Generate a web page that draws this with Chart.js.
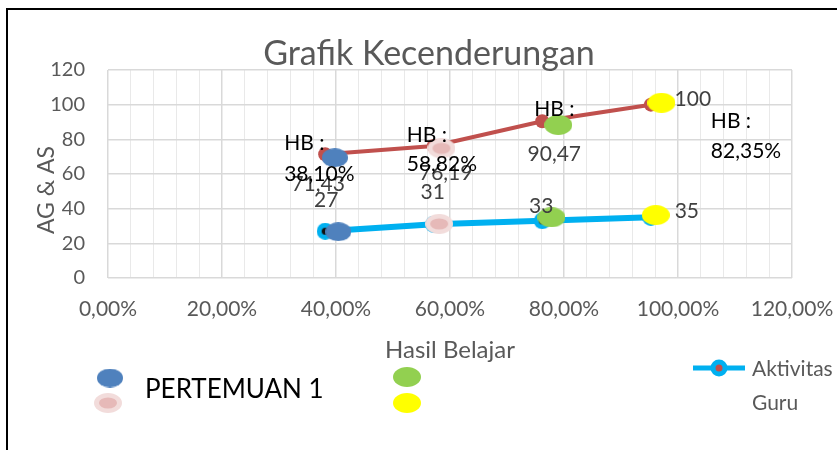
<!DOCTYPE html>
<html><head><meta charset="utf-8">
<script src="https://cdn.jsdelivr.net/npm/chart.js@4/dist/chart.umd.min.js"></script>
<style>html,body{margin:0;padding:0;background:#fff;}canvas{display:block}</style>
</head><body>
<canvas id="c" width="837" height="450"></canvas>
<script>
// ---- data ----
const xPercent = [38.10, 57.14, 76.19, 95.24];
const aktivitasSiswa = [71.43, 76.19, 90.47, 100];
const aktivitasGuru = [27, 31, 33, 35];
const hbLabels = [['HB :', '38,10%'], ['HB :', '58,82%'], ['HB :'], ['HB :', '82,35%']];
const pertemuan1 = [{x: 39.8, y: 69.4}, {x: 40.4, y: 26.7}];
const pertemuan2 = [{x: 58.5, y: 74.8}, {x: 58.1, y: 31.2}];
const pertemuan3 = [{x: 79.0, y: 88.3}, {x: 77.8, y: 35.0}];
const pertemuan4 = [{x: 97.1, y: 101.1}, {x: 96.1, y: 36.3}];
const xTickLabels = ['0,00%', '20,00%', '40,00%', '60,00%', '80,00%', '100,00%', '120,00%'];
const yTickLabels = ['0', '20', '40', '60', '80', '100', '120'];
const chartTitle = 'Grafik Kecenderungan';
const xTitle = 'Hasil Belajar';
const yTitle = 'AG & AS';

Chart.defaults.font.family = 'Lato';

function ellipse(w, h, fill, inner) {
  const c = document.createElement('canvas');
  c.width = w; c.height = h;
  const g = c.getContext('2d');
  g.fillStyle = fill;
  g.beginPath(); g.ellipse(w / 2, h / 2, w / 2, h / 2, 0, 0, Math.PI * 2); g.fill();
  if (inner) {
    g.fillStyle = inner.color;
    g.beginPath(); g.ellipse(w / 2, h / 2, inner.rx, inner.ry, 0, 0, Math.PI * 2); g.fill();
  }
  return c;
}
const blueEll = ellipse(26, 19, '#4F81BD');
const pinkEll = ellipse(28, 20, '#F2DCDB', {color: '#E6B9B8', rx: 9, ry: 5.5});
const greenEll = ellipse(28, 20, '#92D050');
const yellowEll = ellipse(28, 20, '#FFFF00');
const guruMarker = ellipse(17, 17, '#00B0F0', {color: '#111', rx: 3.5, ry: 3.5});

const fmt = v => String(v).replace('.', ',');

const annot = {
  id: 'annot',
  beforeDraw(chart) {
    const c = chart.ctx;
    c.save();
    c.fillStyle = '#fff';
    c.fillRect(0, 0, chart.width, chart.height);
    c.restore();
  },
  afterDraw(chart) {
    const c = chart.ctx;
    const xs = chart.scales.x, ys = chart.scales.y;
    c.save();
    // border
    c.strokeStyle = '#000'; c.lineWidth = 2;
    c.strokeRect(7, 9, 900, 500);
    // title
    c.fillStyle = '#595959';
    c.font = '34px Lato';
    c.textAlign = 'center'; c.textBaseline = 'middle';
    c.fillText(chartTitle, 429, 54);
    // y title
    c.save();
    c.translate(47, 190); c.rotate(-Math.PI / 2);
    c.font = '23px Lato';
    c.fillText(yTitle, 0, 0);
    c.restore();
    // value labels
    c.font = '21px Lato';
    c.fillStyle = '#404040';
    const sOff = [[-7, 30], [12, 27], [12, 33], [42, -5]];
    const gOff = [[1, -31], [-1, -32], [-1, -15], [36, -6]];
    xPercent.forEach((x, i) => {
      const px = xs.getPixelForValue(x);
      c.fillText(fmt(aktivitasSiswa[i]), px + sOff[i][0], ys.getPixelForValue(aktivitasSiswa[i]) + sOff[i][1]);
      c.fillText(fmt(aktivitasGuru[i]), px + gOff[i][0], ys.getPixelForValue(aktivitasGuru[i]) + gOff[i][1]);
    });
    // HB labels
    c.fillStyle = '#000';
    c.textAlign = 'left';
    const hOff = [[-41, -11, 31], [-27, -11, 29], [-8, -12, 30], [60, 17, 30]];
    xPercent.forEach((x, i) => {
      const px = xs.getPixelForValue(x), py = ys.getPixelForValue(aktivitasSiswa[i]);
      hbLabels[i].forEach((t, j) => {
        c.fillText(t, px + hOff[i][0], py + hOff[i][1] + j * hOff[i][2]);
      });
    });
    // legend
    const ds = chart.data.datasets;
    c.drawImage(ds[0].pointStyle, 110 - 13, 378 - 9.5);
    c.drawImage(ds[1].pointStyle, 108 - 14, 403 - 10);
    c.drawImage(ds[2].pointStyle, 407 - 14, 377 - 10);
    c.drawImage(ds[3].pointStyle, 407 - 14, 403 - 10);
    c.fillStyle = '#000';
    c.font = '26px Lato';
    c.textAlign = 'left';
    c.fillText(ds[0].label, 145, 390);
    c.strokeStyle = ds[4].borderColor; c.lineWidth = 5;
    c.beginPath(); c.moveTo(693, 368); c.lineTo(745, 368); c.stroke();
    c.fillStyle = '#00B0F0';
    c.beginPath(); c.arc(719, 368, 8.5, 0, Math.PI * 2); c.fill();
    c.fillStyle = '#C0504D';
    c.beginPath(); c.arc(719, 368, 3.5, 0, Math.PI * 2); c.fill();
    c.fillStyle = '#595959';
    c.font = '21px Lato';
    const lg = ds[4].label.split(' ');
    c.fillText(lg[0], 752, 369);
    c.fillText(lg[1], 752, 403);
    c.restore();
  }
};

new Chart(document.getElementById('c'), {
  type: 'scatter',
  data: {
    datasets: [
      {label: 'PERTEMUAN 1', data: pertemuan1, pointStyle: blueEll, order: 1},
      {label: '', data: pertemuan2, pointStyle: pinkEll, order: 1},
      {label: '', data: pertemuan3, pointStyle: greenEll, order: 1},
      {label: '', data: pertemuan4, pointStyle: yellowEll, order: 1},
      {label: 'Aktivitas Guru', data: xPercent.map((x, i) => ({x, y: aktivitasGuru[i]})),
       showLine: true, borderColor: '#00B0F0', borderWidth: 6, pointStyle: guruMarker, order: 2},
      {label: 'Aktivitas Siswa', data: xPercent.map((x, i) => ({x, y: aktivitasSiswa[i]})),
       showLine: true, borderColor: '#C0504D', borderWidth: 4, pointRadius: 7,
       pointBackgroundColor: '#C0504D', pointBorderWidth: 0, order: 3}
    ]
  },
  options: {
    responsive: false,
    animation: false,
    layout: {padding: {left: 0, right: 45, top: 70, bottom: 0}},
    plugins: {legend: {display: false}, tooltip: {enabled: false}, title: {display: false}},
    scales: {
      x: {
        type: 'linear', min: 0, max: 120,
        ticks: {
          stepSize: 4, autoSkip: false, maxRotation: 0, padding: 19,
          color: '#595959', font: {size: 21},
          callback: v => (Math.round(v) % 20 === 0 ? xTickLabels[Math.round(v) / 20] : '')
        },
        grid: {
          drawTicks: false,
          color: ctx => (Math.round(ctx.tick.value) % 20 === 0 ? '#D9D9D9' : '#E9E9E9'),
          lineWidth: ctx => (Math.round(ctx.tick.value) % 20 === 0 ? 1.5 : 1)
        },
        border: {display: false},
        title: {display: true, text: xTitle, color: '#595959', font: {size: 24}, padding: {top: 0, bottom: 85}},
        afterFit: s => { s.height = 172; s.paddingLeft = 0; s.paddingRight = 0; }
      },
      y: {
        min: 0, max: 120,
        ticks: {stepSize: 20, padding: 23, color: '#595959', font: {size: 20},
                callback: v => yTickLabels[Math.round(v) / 20]},
        grid: {drawTicks: false, color: '#D9D9D9', lineWidth: 1.5},
        border: {display: false},
        afterFit: s => { s.width = 108; }
      }
    }
  },
  plugins: [annot]
});
</script>
</body></html>
